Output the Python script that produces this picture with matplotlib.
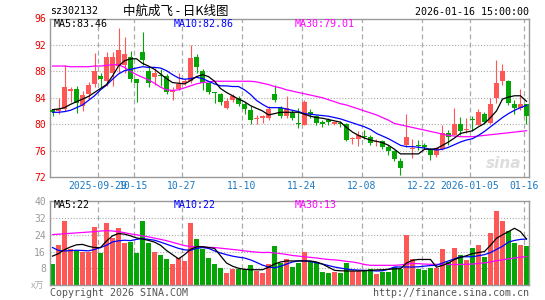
import matplotlib
matplotlib.use('Agg')
import matplotlib.pyplot as plt

# daily candles 2025-09-17 .. 2026-01-16 (80 sessions)
opens = [82.2, 82.0, 82.3, 85.0, 85.4, 82.8, 84.5, 86.1, 87.3, 86.6,
         87.7, 88.8, 88.9, 90.1, 86.8, 91.0, 88.0, 87.2, 87.5, 87.3,
         84.9, 85.4, 86.2, 86.6, 90.2, 88.1, 86.2, 84.8, 84.5, 82.5,
         83.7, 83.9, 83.0, 82.2, 80.8, 81.0, 80.9, 84.5, 82.5, 81.3,
         81.7, 80.1, 79.9, 81.9, 81.2, 80.3, 80.6, 80.0, 80.2, 80.0,
         77.7, 77.8, 78.2, 78.0, 77.3, 77.4, 76.6, 76.0, 74.4, 76.9,
         76.3, 76.8, 76.9, 76.1, 75.3, 76.3, 78.6, 78.4, 80.0, 79.1,
         80.7, 79.9, 81.5, 80.2, 83.9, 86.5, 86.6, 83.0, 82.5, 83.0]
highs = [82.3, 83.9, 89.0, 85.6, 85.8, 85.0, 86.4, 90.8, 87.8, 90.9,
         91.0, 94.6, 93.2, 91.1, 86.8, 94.0, 88.7, 88.5, 88.3, 87.6,
         85.7, 87.7, 86.9, 92.0, 90.6, 88.3, 86.4, 84.9, 84.7, 83.9,
         84.5, 84.2, 83.4, 82.7, 81.4, 81.4, 82.8, 86.0, 82.7, 84.2,
         82.2, 82.5, 83.7, 82.3, 81.4, 80.6, 80.9, 80.4, 80.5, 80.2,
         78.1, 78.9, 79.1, 78.4, 77.7, 77.6, 76.9, 76.1, 74.9, 81.5,
         77.8, 77.6, 77.1, 76.4, 76.6, 79.9, 79.1, 82.4, 81.1, 81.0,
         81.2, 82.3, 81.8, 84.0, 89.7, 89.1, 86.7, 83.7, 85.3, 83.1]
lows = [81.2, 81.5, 82.0, 83.4, 81.7, 82.0, 83.8, 85.7, 85.6, 85.8,
        85.8, 87.7, 87.7, 86.4, 83.4, 88.9, 85.7, 86.0, 85.8, 84.6,
        83.7, 85.2, 85.9, 86.3, 87.8, 85.2, 84.5, 83.2, 82.9, 82.3,
        83.3, 82.7, 81.6, 80.0, 80.0, 80.2, 80.6, 83.4, 80.9, 80.9,
        80.6, 79.4, 79.8, 80.9, 79.9, 79.6, 79.9, 79.9, 79.6, 77.5,
        77.0, 76.7, 77.8, 76.8, 76.7, 76.2, 75.4, 74.4, 72.3, 76.6,
        74.9, 76.1, 76.2, 74.6, 75.1, 76.1, 76.9, 78.3, 78.4, 78.6,
        78.9, 79.8, 80.0, 80.0, 83.2, 86.0, 82.9, 81.5, 82.1, 80.0]
closes = [81.9, 82.3, 85.7, 85.3, 83.2, 84.4, 85.9, 88.1, 86.8, 90.2,
          90.2, 91.3, 90.7, 86.8, 86.2, 89.7, 86.2, 87.8, 87.3, 84.9,
          85.2, 86.1, 86.6, 90.0, 88.7, 86.2, 84.9, 84.7, 83.4, 83.5,
          84.2, 83.0, 82.3, 80.7, 81.0, 81.2, 82.3, 83.7, 81.3, 82.5,
          80.9, 80.0, 83.4, 81.6, 80.2, 80.1, 80.4, 80.3, 80.1, 77.6,
          77.9, 78.4, 78.1, 77.1, 77.4, 76.5, 76.0, 74.7, 73.4, 78.0,
          76.4, 76.7, 76.5, 75.4, 76.4, 78.7, 78.1, 80.0, 79.0, 79.2,
          80.6, 81.9, 80.3, 83.0, 86.2, 88.1, 83.2, 82.4, 83.1, 81.2]

ma5 = [82.2, 82.3, 82.5, 83.0, 83.4, 83.8, 84.2, 84.8, 85.4, 86.0,
       87.3, 88.8, 89.6, 89.9, 89.9, 89.2, 88.8, 88.3, 87.6, 86.9,
       86.3, 86.2, 86.1, 86.6, 87.2, 87.5, 87.2, 86.5, 85.4, 84.8,
       84.3, 83.8, 83.4, 82.8, 82.4, 82.0, 81.4, 81.6, 81.8, 81.8,
       81.8, 81.8, 81.5, 81.2, 81.0, 80.9, 80.7, 80.5, 80.3, 79.5,
       78.8, 78.3, 77.9, 77.6, 77.4, 77.2, 76.8, 76.2, 75.5, 75.5,
       75.5, 75.5, 76.2, 76.2, 76.3, 76.8, 77.3, 77.9, 78.6, 78.8,
       79.0, 79.6, 80.1, 81.0, 82.0, 83.8, 84.1, 84.3, 84.3, 83.46]
ma10 = [81.8, 81.8, 81.9, 82.1, 82.5, 82.9, 83.6, 84.3, 85.2, 85.9,
        86.8, 87.6, 88.1, 88.3, 88.5, 88.7, 88.6, 88.6, 88.5, 88.1,
        87.5, 87.0, 86.8, 86.9, 87.1, 86.9, 86.5, 86.1, 85.8, 85.8,
        85.7, 85.7, 85.2, 84.5, 83.6, 83.0, 82.5, 82.5, 82.5, 82.3,
        82.1, 81.9, 81.6, 81.5, 81.4, 81.3, 81.2, 81.0, 80.8, 80.5,
        80.2, 79.9, 79.6, 79.2, 78.6, 78.2, 77.8, 77.3, 76.8, 76.6,
        76.6, 76.5, 76.4, 76.2, 76.1, 76.2, 76.5, 76.9, 77.3, 77.6,
        77.8, 78.3, 78.9, 79.6, 80.3, 81.0, 81.6, 82.1, 82.5, 82.86]
ma30 = [88.8, 88.8, 88.8, 88.7, 88.7, 88.7, 88.7, 88.8, 88.8, 88.9,
        89.0, 89.0, 88.6, 88.0, 87.5, 87.1, 86.7, 86.2, 85.6, 85.2,
        85.1, 85.2, 85.5, 85.8, 86.1, 86.3, 86.4, 86.5, 86.5, 86.5,
        86.5, 86.5, 86.5, 86.5, 86.4, 86.2, 86.0, 85.7, 85.5, 85.2,
        85.0, 84.8, 84.6, 84.4, 84.2, 84.0, 83.7, 83.4, 83.1, 82.9,
        82.6, 82.3, 82.0, 81.7, 81.4, 81.0, 80.6, 80.1, 79.9, 79.7,
        79.5, 79.3, 79.1, 78.9, 78.7, 78.5, 78.3, 78.2, 78.1, 78.1,
        78.1, 78.2, 78.3, 78.4, 78.5, 78.6, 78.7, 78.8, 78.9, 79.01]

# volume in 10k lots
volume = [10.0, 19.0, 30.6, 17.0, 16.4, 15.6, 16.0, 27.8, 15.3, 29.7,
          22.3, 27.4, 20.1, 20.7, 15.2, 30.7, 20.2, 15.9, 14.3, 12.4,
          10.0, 13.1, 11.5, 29.8, 21.9, 17.1, 12.9, 10.2, 8.1, 5.7,
          7.6, 7.8, 7.6, 9.4, 6.7, 5.7, 10.2, 18.5, 10.3, 12.3,
          8.5, 10.7, 16.0, 11.7, 11.2, 6.1, 5.6, 6.1, 5.6, 10.4,
          6.7, 6.7, 7.2, 7.5, 5.1, 6.4, 6.4, 8.8, 7.7, 24.0,
          12.3, 7.7, 7.2, 8.3, 8.0, 17.1, 11.2, 17.7, 14.3, 12.0,
          17.5, 19.3, 13.5, 24.7, 35.4, 30.4, 25.7, 20.1, 19.2, 18.5]
vol_ma5 = [13.8, 15.0, 16.9, 18.2, 19.2, 19.4, 18.5, 17.9, 17.9, 21.0,
           23.5, 24.6, 24.3, 23.5, 22.5, 22.0, 21.3, 20.5, 19.0, 16.5,
           14.5, 12.5, 14.5, 17.0, 18.3, 18.3, 17.9, 17.5, 14.0, 10.5,
           9.0, 8.0, 7.5, 7.3, 7.3, 7.3, 8.5, 10.0, 11.0, 11.5,
           11.5, 11.5, 11.5, 11.5, 11.0, 10.0, 8.5, 7.0, 6.8, 6.7,
           6.7, 6.7, 6.8, 7.0, 7.2, 7.3, 7.5, 7.7, 7.8, 10.5,
           11.8, 12.2, 12.2, 12.2, 8.5, 9.4, 10.5, 12.2, 13.2, 14.0,
           15.0, 15.5, 16.0, 19.0, 22.3, 24.0, 25.5, 27.1, 25.5, 22.0]
vol_ma10 = [17.9, 16.5, 16.3, 16.4, 16.6, 16.5, 16.3, 17.0, 17.9, 19.0,
            20.6, 21.1, 21.4, 21.2, 21.8, 22.2, 21.8, 21.4, 20.5, 19.5,
            18.5, 17.5, 16.8, 16.6, 17.5, 17.9, 17.5, 16.3, 15.3, 14.5,
            13.8, 13.3, 12.9, 12.0, 10.8, 9.5, 8.6, 8.2, 8.9, 10.0,
            11.0, 11.5, 11.5, 11.2, 10.6, 10.0, 9.3, 8.6, 8.1, 7.6,
            7.3, 7.1, 7.0, 6.9, 6.7, 6.8, 7.5, 8.6, 8.6, 8.6,
            8.6, 8.7, 9.0, 9.3, 9.4, 10.5, 11.5, 12.5, 13.5, 13.5,
            13.5, 14.0, 14.5, 15.5, 17.0, 18.5, 20.5, 21.3, 21.8, 22.0]
vol_ma30 = [24.1, 24.3, 24.5, 24.7, 24.9, 25.1, 25.3, 25.5, 25.8, 26.0,
            25.8, 25.5, 25.0, 24.4, 24.0, 23.4, 23.0, 22.4, 21.8, 21.2,
            20.4, 19.6, 18.8, 18.4, 18.3, 18.2, 18.0, 17.9, 17.6, 17.3,
            17.0, 16.7, 16.3, 16.0, 15.7, 15.5, 15.6, 15.3, 15.0, 14.6,
            14.1, 13.8, 13.5, 13.2, 12.9, 12.5, 12.2, 12.0, 11.7, 11.3,
            11.0, 10.5, 9.8, 9.4, 9.4, 9.4, 9.4, 9.4, 9.6, 10.0,
            10.3, 10.2, 10.0, 9.9, 9.9, 9.8, 9.8, 9.8, 9.8, 9.9,
            10.0, 10.3, 10.6, 11.0, 11.6, 12.0, 12.5, 12.9, 13.3, 13.5]

tick_idx = [8, 14, 22, 32, 42, 52, 62, 70, 79]
tick_labels = ['2025-09-29', '10-15', '10-27', '11-10', '11-24',
               '12-08', '12-22', '2026-01-05', '01-16']
price_ticks = [96, 92, 88, 84, 80, 76, 72]
vol_ticks = [40, 32, 24, 16, 8]

RED = '#ff5656'
GREEN = '#05a505'
GRID = '#aaaaaa'
MONO = 'DejaVu Sans Mono'
W, H = 545, 300


def fx(px):
    return px / W


def fy(py):
    return 1 - py / H


n = len(closes)
x = list(range(n))
up = [c >= o for o, c in zip(opens, closes)]
colors = [RED if u else GREEN for u in up]

fig = plt.figure(figsize=(W / 100, H / 100), dpi=100)
fig.patch.set_facecolor('white')

ax = fig.add_axes([fx(50), fy(177), fx(479), 158.5 / H])
axv = fig.add_axes([fx(50), fy(285), fx(479), 83.7 / H])

for a in (ax, axv):
    a.set_xlim(-0.42, n - 0.58)
    for s in a.spines.values():
        s.set_color('#999999')
        s.set_linewidth(1.0)
    a.tick_params(length=0)
    for t in tick_idx:
        a.axvline(t - 0.42, color=GRID, lw=0.9, dashes=(4, 2.5), zorder=0)

# price panel
ax.set_ylim(72, 96)
for p in price_ticks[1:-1]:
    ax.axhline(p, color=GRID, lw=0.8, dashes=(1, 1.6), zorder=0)
ax.vlines(x, lows, highs, colors=colors, lw=0.8, zorder=2)
bottoms = [min(o, c) for o, c in zip(opens, closes)]
heights = [max(abs(c - o), 0.12) for o, c in zip(opens, closes)]
ax.bar(x, heights, bottom=bottoms, width=0.82, color=colors, lw=0, zorder=3)
ax.plot(x, ma30, color='#ff00ff', lw=0.9, zorder=4)
ax.plot(x, ma10, color='#0000ff', lw=0.9, zorder=4)
ax.plot(x, ma5, color='black', lw=0.9, zorder=4)
ax.set_yticks(price_ticks)
ax.set_yticklabels([str(p) for p in price_ticks], fontfamily=MONO,
                   fontsize=7, color='#ee0000')
ax.tick_params(axis='y', pad=3)
ax.set_xticks([t - 0.42 for t in tick_idx])
ax.set_xticklabels(tick_labels, fontfamily=MONO, fontsize=7, color='#1a78c2')
ax.tick_params(axis='x', pad=3)

# volume panel
axv.set_ylim(0, 40)
for v in vol_ticks[1:]:
    axv.axhline(v, color=GRID, lw=0.8, dashes=(1, 1.6), zorder=0)
axv.bar(x, volume, width=0.82, color=colors, lw=0, zorder=2)
axv.plot(x, vol_ma30, color='#ff00ff', lw=0.9, zorder=4)
axv.plot(x, vol_ma10, color='#0000ff', lw=0.9, zorder=4)
axv.plot(x, vol_ma5, color='black', lw=0.9, zorder=4)
axv.set_yticks(vol_ticks)
axv.set_yticklabels([str(v) for v in vol_ticks], fontfamily=MONO,
                    fontsize=7, color='#999999')
axv.tick_params(axis='y', pad=3)
axv.set_xticks([])

# header / legends / footer
fig.text(fx(50), fy(11.5), 'sz302132', fontfamily=MONO, fontsize=7.2,
         va='center', ha='left')
fig.text(fx(176), fy(11.5), '中航成飞 - 日K线图',
         family=['Noto Sans CJK SC', 'DejaVu Sans'], fontsize=9,
         va='center', ha='center')
fig.text(fx(529), fy(12), '2026-01-16 15:00:00', fontfamily=MONO,
         fontsize=7.2, va='center', ha='right')

fig.text(fx(54), fy(24), f'MA5:{ma5[-1]:.2f}', fontfamily=MONO, fontsize=7.2,
         va='center', color='black')
fig.text(fx(174), fy(24), f'MA10:{ma10[-1]:.2f}', fontfamily=MONO,
         fontsize=7.2, va='center', color='#0000ff')
fig.text(fx(295), fy(24), f'MA30:{ma30[-1]:.2f}', fontfamily=MONO,
         fontsize=7.2, va='center', color='#ff00ff')

fig.text(fx(54), fy(205.5), f'MA5:{vol_ma5[-1]:.0f}', fontfamily=MONO,
         fontsize=7.2, va='center', color='black')
fig.text(fx(174), fy(205.5), f'MA10:{vol_ma10[-1]:.0f}', fontfamily=MONO,
         fontsize=7.2, va='center', color='#0000ff')
fig.text(fx(295), fy(205.5), 'MA30:13', fontfamily=MONO,
         fontsize=7.2, va='center', color='#ff00ff')

fig.text(fx(44), fy(286), 'x万', family=['Noto Sans CJK SC', 'DejaVu Sans'],
         fontsize=6.5, va='center', ha='right', color='#aaaaaa', style='italic')
fig.text(fx(50), fy(293), 'Copyright 2026 SINA.COM', fontfamily=MONO,
         fontsize=7.2, va='center', color='#555555')
fig.text(fx(529), fy(293), 'http://finance.sina.com.cn', fontfamily=MONO,
         fontsize=7.2, va='center', ha='right', color='#555555')

# faint watermark
ax.text(0.985, 0.04, 'sina', transform=ax.transAxes, ha='right', va='bottom',
        fontsize=11, fontweight='bold', style='italic', color='#dddddd',
        zorder=1)

fig.savefig('out.png', dpi=100)
